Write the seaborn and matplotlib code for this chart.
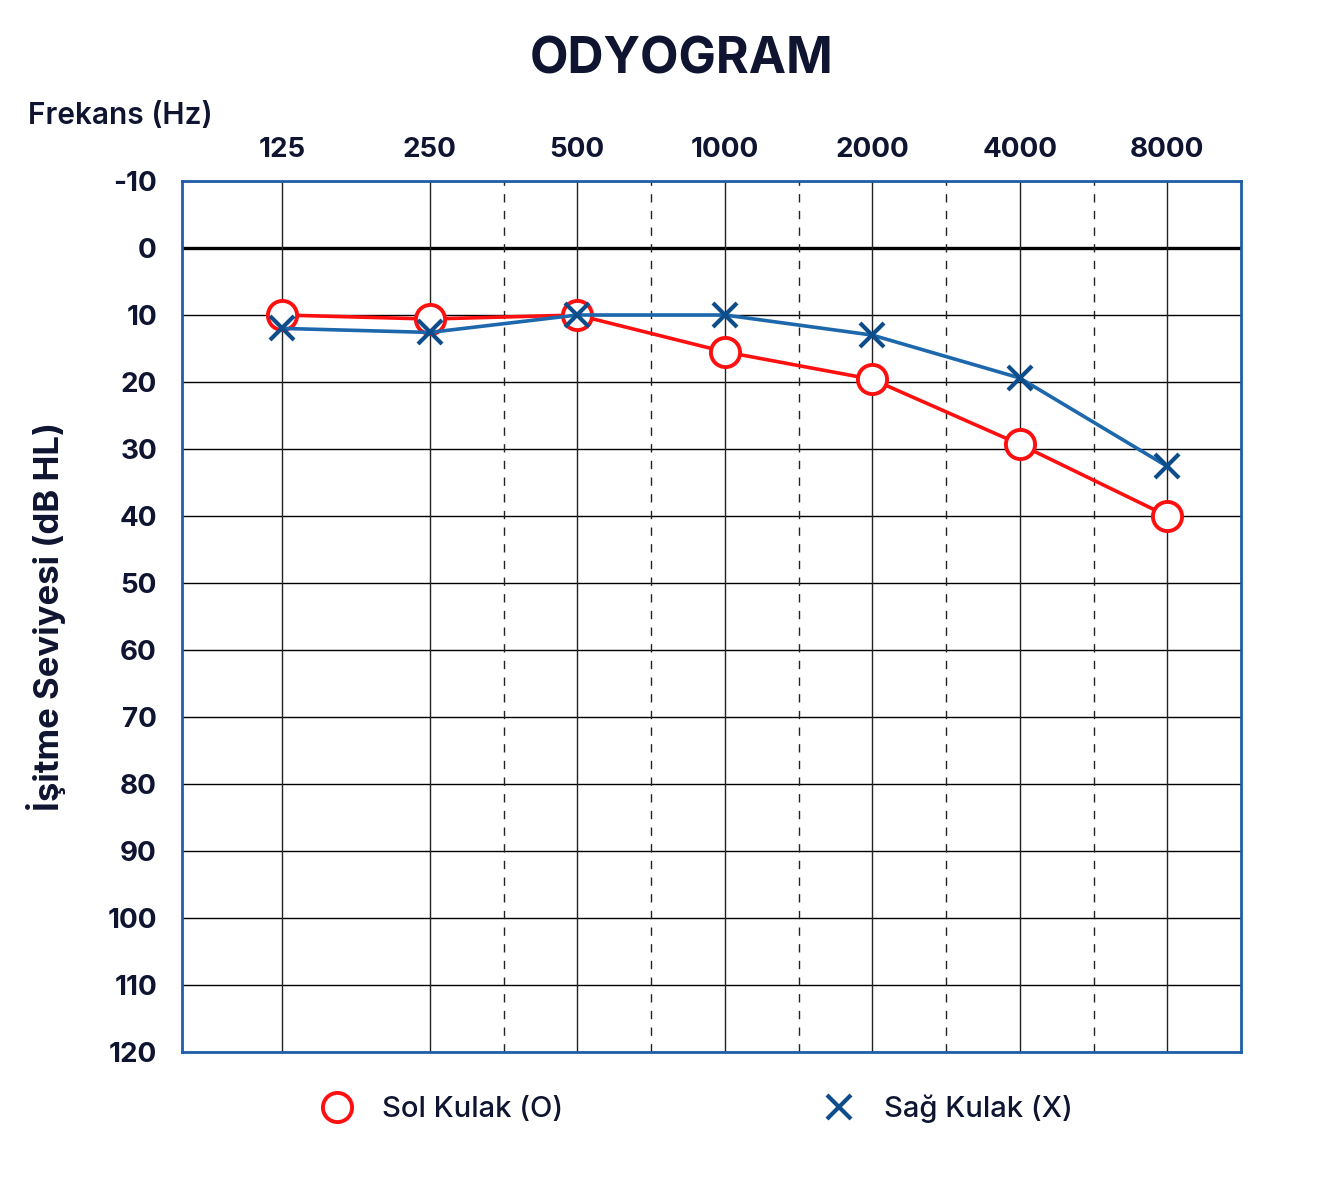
import matplotlib
matplotlib.use("Agg")
import matplotlib.pyplot as plt
from matplotlib.lines import Line2D
import seaborn as sns
import pandas as pd
import numpy as np

frequencies = ["125", "250", "500", "1000", "2000", "4000", "8000"]
sol_kulak = [10, 10.6, 10, 15.5, 19.6, 29.3, 40]
sag_kulak = [12, 12.6, 10, 10, 13, 19.4, 32.6]
y_ticks = [-10, 0, 10, 20, 30, 40, 50, 60, 70, 80, 90, 100, 110, 120]
mid_positions = [1.5, 2.5, 3.5, 4.5, 5.5]

sns.set_theme(style="white")
plt.rcParams['font.family'] = ['Inter', 'DejaVu Sans']

NAVY = "#0f1530"
RED = "#ff1010"
BLUE_LINE = "#1d67ad"
BLUE_MARK = "#0d4d8c"
SPINE = "#1f5fa8"

df = pd.DataFrame({
    "idx": list(range(len(frequencies))) * 2,
    "db": sol_kulak + sag_kulak,
    "ear": ["Sol"] * len(frequencies) + ["Sag"] * len(frequencies),
})

fig = plt.figure(figsize=(13.34, 11.79), dpi=100)
ax = fig.add_axes([182/1334, 1-1052/1179, (1241-182)/1334, (1052-181)/1179])

# grid
for yv in y_ticks:
    ax.axhline(yv, color="black", lw=2.4 if yv == 0 else 1.0, zorder=1)
for i in range(len(frequencies)):
    ax.axvline(i, color="#222222", lw=1.0, zorder=1)
for m in mid_positions:
    ax.axvline(m, color="#222222", lw=1.0, ls=(0, (6, 6)), zorder=1)

sns.lineplot(data=df[df.ear == "Sol"], x="idx", y="db", ax=ax, color=RED, lw=2.6,
             marker="o", markersize=21, markerfacecolor="white",
             markeredgecolor=RED, markeredgewidth=2.8, zorder=3)
sns.lineplot(data=df[df.ear == "Sag"], x="idx", y="db", ax=ax, color=BLUE_LINE, lw=2.6,
             marker="x", markersize=17, markeredgecolor=BLUE_MARK,
             markeredgewidth=3.0, zorder=4)

ax.set_xlim(-0.68, 6.5)
ax.set_ylim(120, -10)
ax.set_xticks(range(len(frequencies)))
ax.set_xticklabels(frequencies)
ax.set_yticks(y_ticks)
ax.set_yticklabels([str(v) for v in y_ticks])
ax.xaxis.tick_top()
ax.tick_params(axis="x", length=0, pad=13, labelsize=20, labelcolor=NAVY)
ax.tick_params(axis="y", length=0, pad=18, labelsize=20, labelcolor=NAVY)
for lab in ax.get_xticklabels() + ax.get_yticklabels():
    lab.set_fontweight("bold")
ax.set_xlabel("")
ax.set_ylabel("İşitme Seviyesi (dB HL)", fontsize=25, fontweight="bold", color=NAVY, labelpad=30)

for s in ax.spines.values():
    s.set_color(SPINE)
    s.set_linewidth(2.0)
    s.set_visible(True)

fig.text(682/1334, 1-60/1179, "ODYOGRAM", ha="center", va="center",
         fontsize=36, fontweight="bold", color=NAVY)
fig.text(28/1334, 1-116/1179, "Frekans (Hz)", ha="left", va="center",
         fontsize=21.5, fontweight="semibold", color=NAVY)

handles = [
    Line2D([], [], ls="none", marker="o", markersize=21, markerfacecolor="white",
           markeredgecolor=RED, markeredgewidth=2.8, label="Sol Kulak (O)"),
    Line2D([], [], ls="none", marker="x", markersize=17, markeredgecolor=BLUE_MARK,
           markeredgewidth=3.0, label="Sağ Kulak (X)"),
]
leg = fig.legend(handles=handles, loc="center", bbox_to_anchor=(694/1334, 1-1109/1179),
                 ncol=2, frameon=False, fontsize=21, columnspacing=8.7, handletextpad=0.8,
                 handlelength=1.5)
for t in leg.get_texts():
    t.set_color(NAVY)
    t.set_fontweight("medium")

fig.savefig("out.png", dpi=100, facecolor="white")
